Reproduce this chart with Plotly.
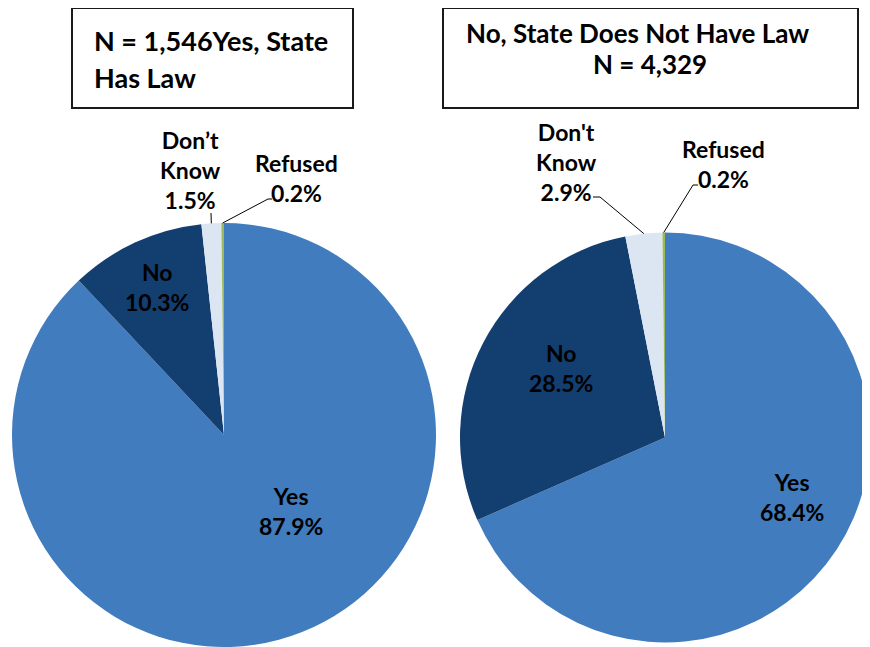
import math
import plotly.graph_objects as go

# data
slices = ['Yes', 'No', "Don't Know", 'Refused']
left_values = [87.9, 10.3, 1.5, 0.2]
right_values = [68.4, 28.5, 2.9, 0.2]
left_text = ['Yes', 'No', 'Don’t<br>Know', 'Refused']
right_text = ['Yes', 'No', "Don't<br>Know", 'Refused']
colors = ['#417CBE', '#133E70', '#DCE6F2', '#9BBB59']

left_title = ['N = 1,546Yes, State', 'Has Law']
right_title = ['No, State Does Not Have Law', 'N = 4,329']

# page body has an 8px margin, so the figure sits at (8, 8) in the window
OFF = 8
W, H = 870 - OFF, 647 - OFF
FONT = 'Lato'


def px(x):
    return (x - OFF) / W


def py(y):
    return 1 - (y - OFF) / H


left_dom = dict(x=[px(11), px(437)], y=[0.0, py(223)])
right_dom = dict(x=[px(460), 1.0], y=[0.0, py(228)])

fig = go.Figure()
for vals, dom in [(left_values, left_dom), (right_values, right_dom)]:
    fig.add_trace(go.Pie(
        labels=slices, values=vals, domain=dom, sort=False,
        direction='clockwise', rotation=0, textinfo='none',
        marker=dict(colors=colors, line=dict(width=0)),
        hoverinfo='label+percent', showlegend=False,
    ))


def tip(vals, dom, i):
    # point on the pie rim at the middle of slice i (window px)
    x0, x1 = dom['x'][0] * W + OFF, dom['x'][1] * W + OFF
    y0, y1 = (1 - dom['y'][1]) * H + OFF, (1 - dom['y'][0]) * H + OFF
    cx, cy = (x0 + x1) / 2, (y0 + y1) / 2
    r = min(x1 - x0, y1 - y0) / 2
    a = 2 * math.pi * (sum(vals[:i]) + vals[i] / 2) / sum(vals)
    return cx + r * math.sin(a), cy - r * math.cos(a)


# label centres (px) and leader line bends for the small slices
left_pos = [(291, 511), (157, 287), (190, 170), (296, 178)]
right_pos = [(792, 497), (561, 368), (566, 162), (723, 164)]
left_lead = {2: [(211, 213)], 3: [(268, 199), (272, 199)]}
right_lead = {2: [(600, 197), (593, 197)], 3: [(693, 185), (698, 185)]}

annotations = []
shapes = []
for vals, txt, pos, lead, dom in [
        (left_values, left_text, left_pos, left_lead, left_dom),
        (right_values, right_text, right_pos, right_lead, right_dom)]:
    for i, v in enumerate(vals):
        annotations.append(dict(
            x=px(pos[i][0]), y=py(pos[i][1]), xref='paper', yref='paper',
            xanchor='center', yanchor='middle',
            text=f'<b>{txt[i]}<br>{v:.1f}%</b>', showarrow=False,
            font=dict(family=FONT, size=23, color='black'),
        ))
    for i, pts in lead.items():
        tx, ty = tip(vals, dom, i)
        path = f'M {px(tx)} {py(ty)} ' + ' '.join(f'L {px(a)} {py(b)}' for a, b in pts)
        shapes.append(dict(type='path', path=path, xref='paper', yref='paper',
                           line=dict(color='black', width=1)))

# title boxes
for x0, x1 in [(72, 353), (443, 858)]:
    shapes.append(dict(type='rect', xref='paper', yref='paper',
                       x0=px(x0), x1=px(x1), y0=py(108), y1=py(8),
                       line=dict(color='#1a1a1a', width=2), fillcolor='white'))

title_pos = [(92, 41, 'left'), (92, 77, 'left')]
for (x, y, anc), t in zip(title_pos, left_title):
    annotations.append(dict(x=px(x), y=py(y), xref='paper', yref='paper',
                            xanchor=anc, yanchor='middle',
                            text=f'<b>{t}</b>', showarrow=False,
                            font=dict(family=FONT, size=27, color='black')))
title_pos = [(637, 33, 'center'), (650, 64, 'center')]
for (x, y, anc), t in zip(title_pos, right_title):
    annotations.append(dict(x=px(x), y=py(y), xref='paper', yref='paper',
                            xanchor=anc, yanchor='middle',
                            text=f'<b>{t}</b>', showarrow=False,
                            font=dict(family=FONT, size=26, color='black')))

fig.update_layout(
    width=W, height=H, margin=dict(l=0, r=0, t=0, b=0),
    paper_bgcolor='white', plot_bgcolor='white',
    annotations=annotations, shapes=shapes,
)

fig.write_html('out.html')
